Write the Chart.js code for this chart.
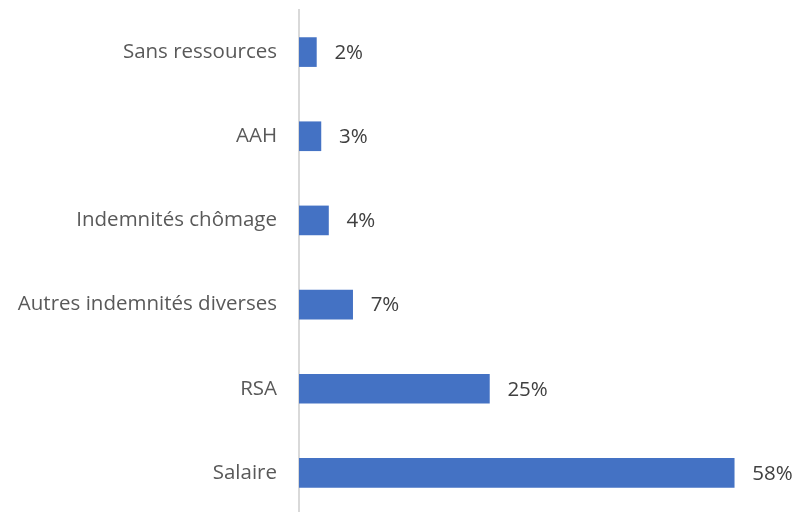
<!DOCTYPE html>
<html>
<head>
<meta charset="utf-8">
<script src="https://cdn.jsdelivr.net/npm/chart.js@4"></script>
<style>
  html, body { margin: 0; padding: 0; background: #fff; overflow: hidden; }
  #wrap { width: 809px; height: 515px; }
</style>
</head>
<body>
<div id="wrap"><canvas id="revenus"></canvas></div>
<script>
// Ressources des personnes (part en %)
const categories = ['Sans ressources', 'AAH', 'Indemnités chômage', 'Autres indemnités diverses', 'RSA', 'Salaire'];
const values = [2.3, 2.9, 3.9, 7.1, 25.2, 57.6];
const valueLabels = ['2%', '3%', '4%', '7%', '25%', '58%'];

const FONT = '"Open Sans", sans-serif';

// labels drawn at the end of each bar
const barLabels = {
    id: 'barLabels',
    afterDatasetsDraw(chart) {
        const ctx = chart.ctx;
        const meta = chart.getDatasetMeta(0);
        ctx.save();
        ctx.font = '20.5px ' + FONT;
        ctx.fillStyle = '#404040';
        ctx.textBaseline = 'middle';
        ctx.textAlign = 'left';
        meta.data.forEach((bar, i) => {
            ctx.fillText(valueLabels[i], bar.x + 18, bar.y + 1);
        });
        ctx.restore();
    }
};

const ctx = document.getElementById('revenus').getContext('2d');
new Chart(ctx, {
    type: 'bar',
    data: {
        labels: categories,
        datasets: [{
            data: values,
            backgroundColor: '#4472c4',
            borderWidth: 0,
            barThickness: 29
        }]
    },
    options: {
        indexAxis: 'y',
        responsive: true,
        maintainAspectRatio: false,
        animation: false,
        layout: { padding: { top: 10, right: 0, bottom: 0, left: 0 } },
        plugins: { legend: { display: false }, tooltip: { enabled: false } },
        scales: {
            x: {
                display: false,
                min: 0,
                max: 67.5
            },
            y: {
                afterFit(scale) {
                    scale.width = 299;
                    scale.paddingTop = 0;
                    scale.paddingBottom = 0;
                },
                grid: { display: false, drawTicks: false },
                border: { display: true, color: '#d9d9d9', width: 2 },
                ticks: {
                    color: '#595959',
                    padding: 22,
                    font: { family: FONT, size: 20.5 }
                }
            }
        }
    },
    plugins: [barLabels]
});
</script>
</body>
</html>
